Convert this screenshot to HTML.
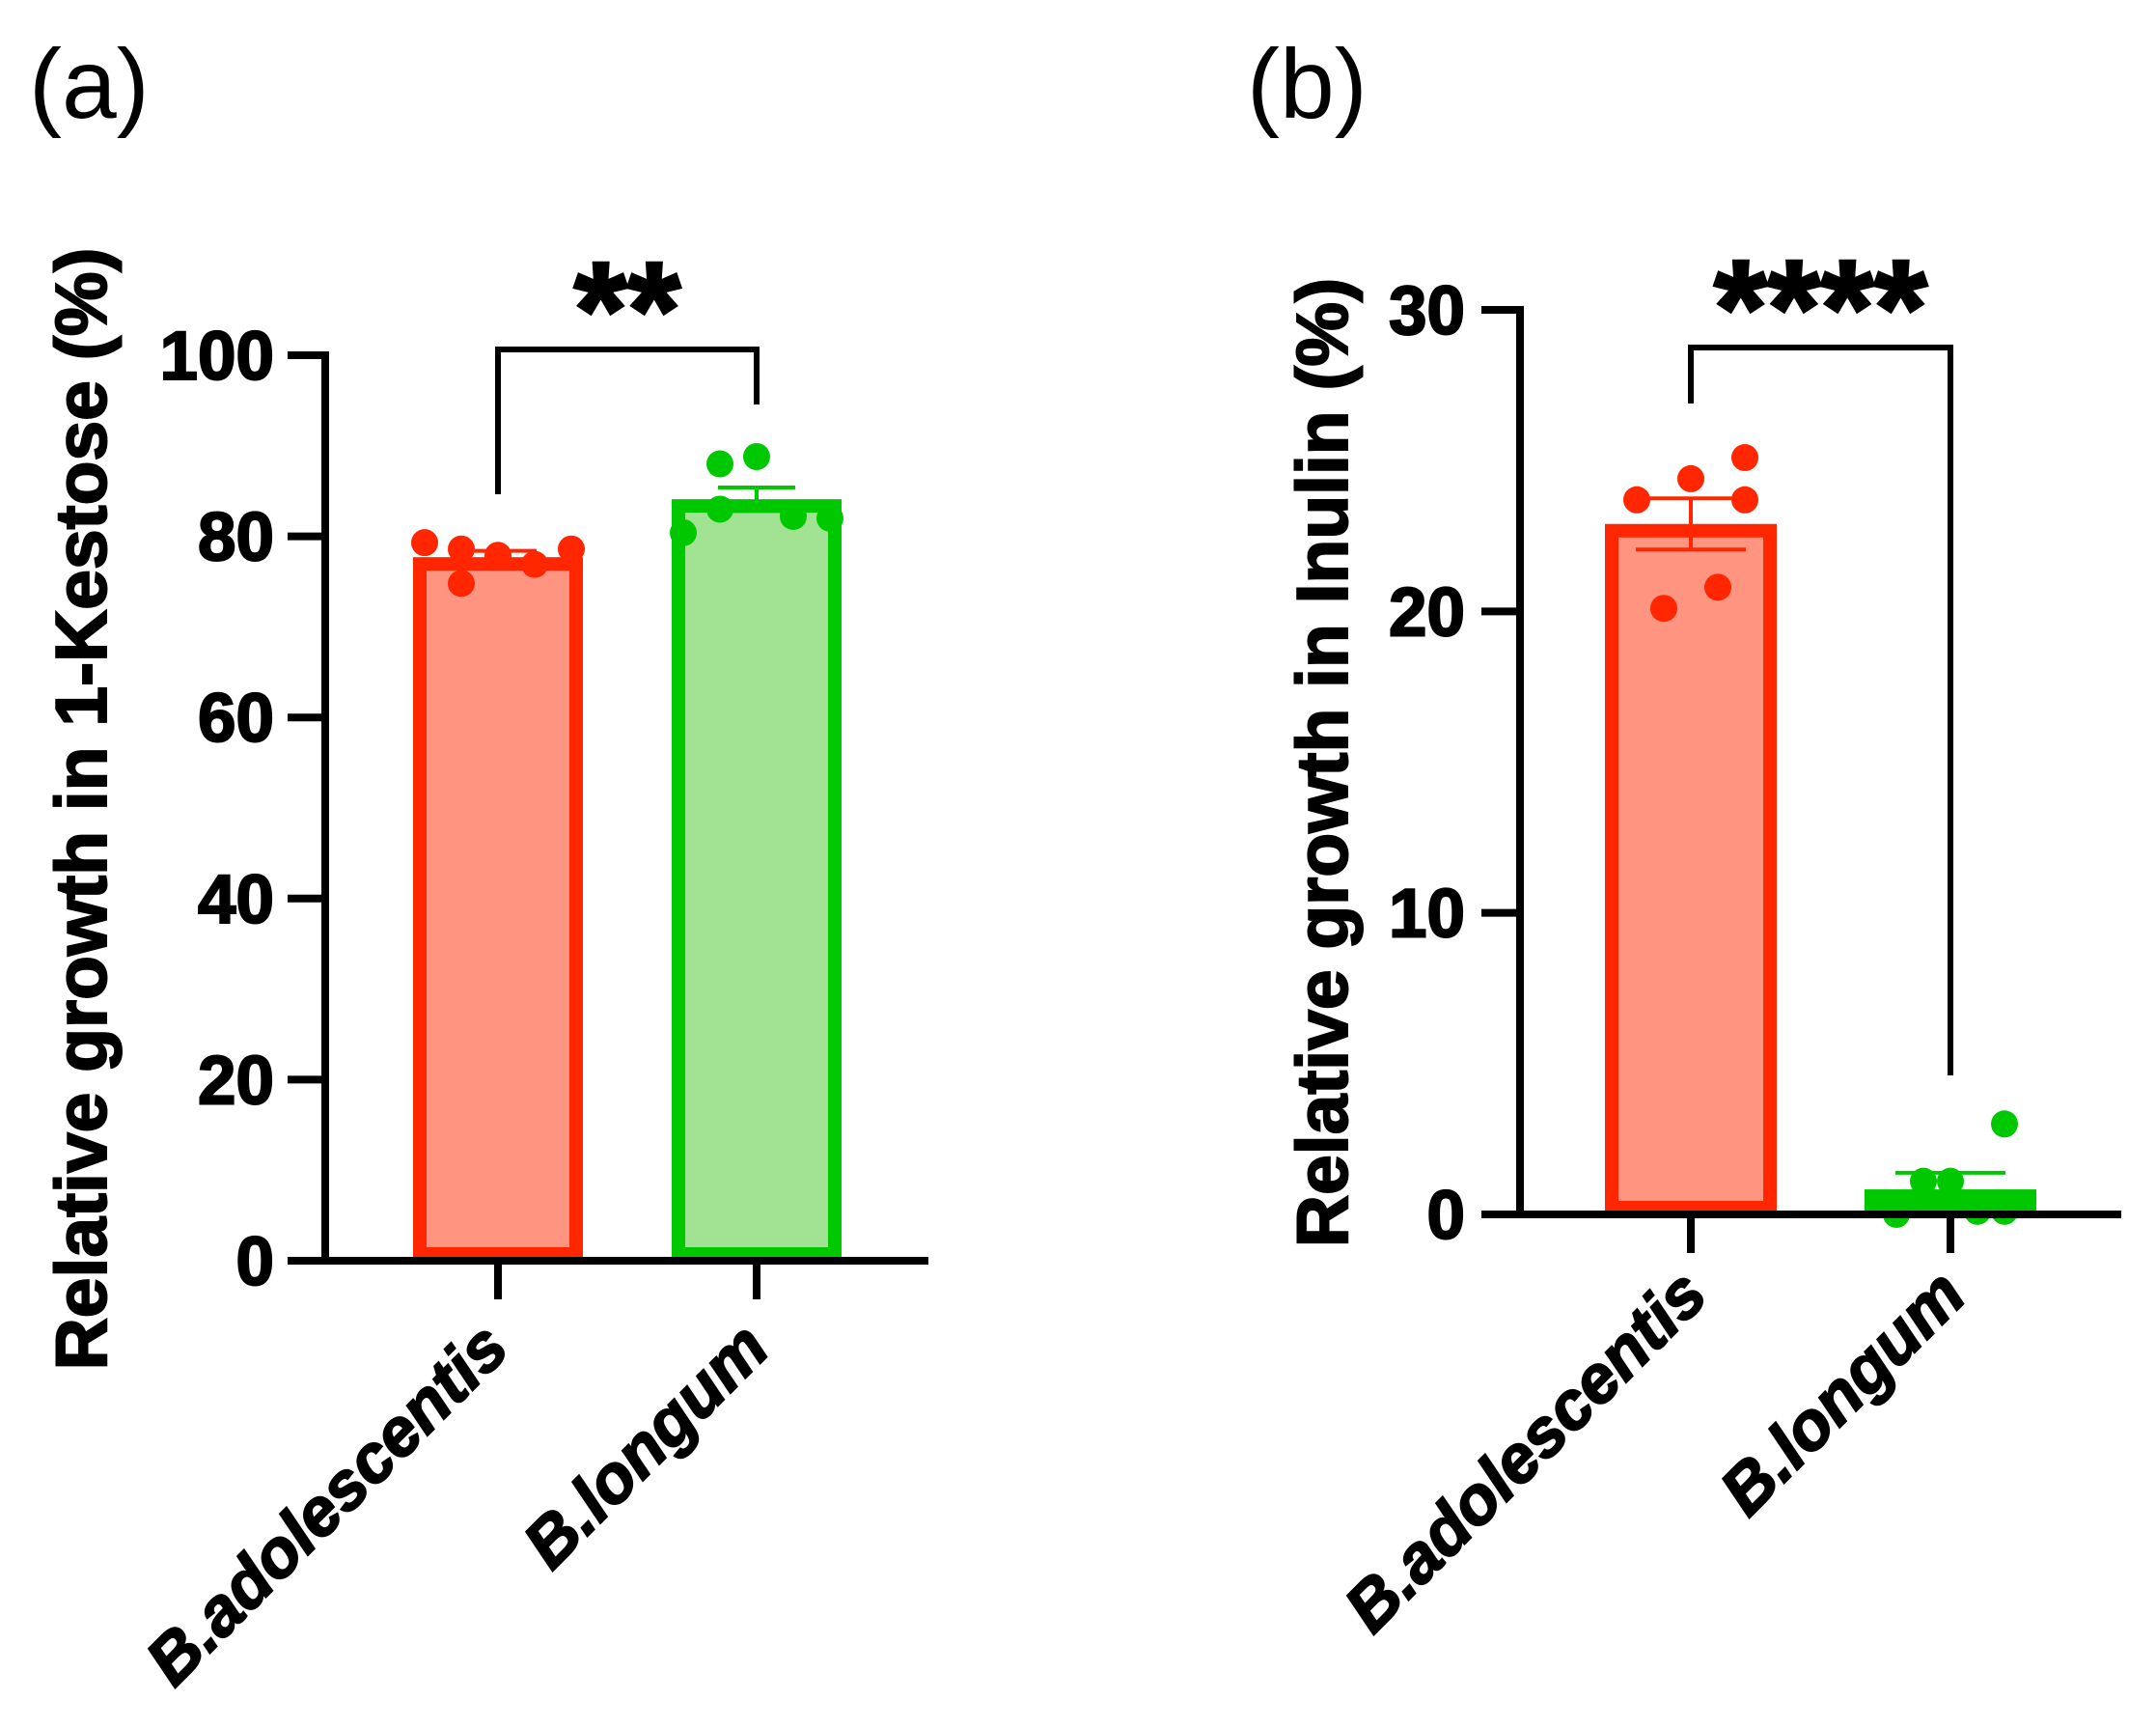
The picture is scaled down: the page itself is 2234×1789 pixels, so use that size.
<!DOCTYPE html>
<html><head><meta charset="utf-8"><style>
html,body{margin:0;padding:0;background:#fff;}
svg{display:block;font-family:"Liberation Sans",Arial,sans-serif;font-weight:bold;}
</style></head><body>
<svg id="fig" width="2234" height="1789" viewBox="0 0 2234 1789" xmlns="http://www.w3.org/2000/svg">
<text x="30" y="122" font-size="102" font-weight="normal">(a)</text>
<text x="1292" y="122" font-size="102" font-weight="normal">(b)</text>
<g id="pa"></g>
<g id="pb"></g>
</svg>
<script>
const categories = ["B.adolescentis", "B.longum"];
const aMeans = [77.7, 84.1];
const aErr = [0.7, 1.3];
const aPoints = [[79.3, 78.6, 74.8, 77.9, 76.9, 78.6], [80.4, 88.0, 83.0, 88.8, 82.2, 82.0]];
const aTicks = [0, 20, 40, 60, 80, 100];
const bMeans = [22.9, 0.83];
const bErr = [0.85, 0.55];
const bPoints = [[23.7, 24.4, 25.1, 23.7, 20.1, 20.8], [0.0, 1.1, 3.0, 0.1, 1.1, 0.1]];
const bTicks = [0, 10, 20, 30];
const aSig = "**";
const bSig = "****";

const NS = "http://www.w3.org/2000/svg";
function mk(parent, tag, attrs, text) {
  const e = document.createElementNS(NS, tag);
  for (const k in attrs) e.setAttribute(k, attrs[k]);
  if (text !== undefined) e.textContent = text;
  parent.appendChild(e);
  return e;
}
const fills = ["#ff9480", "#a2e393"];
const strokes = ["#ff2600", "#00c800"];

function panel(g, cfg) {
  const y = v => cfg.y0 - (v - cfg.min) / (cfg.max - cfg.min) * (cfg.y0 - cfg.yTop);
  const xs = cfg.centers;
  cfg.means.forEach((m, i) => {
    const top = y(m) + 7;
    const r = mk(g, "rect", {x: xs[i] - cfg.bw / 2 + 7, y: top, width: cfg.bw - 14, height: Math.max(0, y(0) - 7 - top), fill: fills[i], stroke: strokes[i], "stroke-width": 14});
    
    
  });
  cfg.means.forEach((m, i) => {
    const eg = mk(g, "g", {stroke: strokes[i], "stroke-width": 4});
    
    
    mk(eg, "line", {x1: xs[i], x2: xs[i], y1: y(m - cfg.err[i]), y2: y(m + cfg.err[i])});
    mk(eg, "line", {x1: xs[i] - cfg.cap, x2: xs[i] + cfg.cap, y1: y(m + cfg.err[i]), y2: y(m + cfg.err[i])});
    mk(eg, "line", {x1: xs[i] - cfg.cap, x2: xs[i] + cfg.cap, y1: y(m - cfg.err[i]), y2: y(m - cfg.err[i])});
  });
  cfg.points.forEach((pts, i) => {
    pts.forEach((v, j) => {
      const spread = cfg.offsets[j] * cfg.dx;
      const c = mk(g, "circle", {cx: xs[i] + spread, cy: y(v), r: 14, fill: strokes[i]});
      
      
    });
  });
  const ax = mk(g, "g", {stroke: "#000", "stroke-width": 8, fill: "none"});
  
  
  mk(ax, "line", {x1: cfg.ax, x2: cfg.ax, y1: y(cfg.max) - 4, y2: y(0) + 4});
  mk(ax, "line", {x1: cfg.tickL, x2: cfg.xEnd, y1: y(0), y2: y(0)});
  cfg.ticks.forEach(t => {
    mk(ax, "line", {x1: cfg.tickL, x2: cfg.ax, y1: y(t), y2: y(t)});
    const tl = mk(g, "text", {x: cfg.labR, y: y(t) + 25, "font-size": 71, "text-anchor": "end", stroke: "#000", "stroke-width": 2}, String(t));
    
    
  });
  xs.forEach((x, i) => {
    mk(ax, "line", {x1: x, x2: x, y1: y(0), y2: cfg.tickB});
    const lx = cfg.labX[i], ly = cfg.labY;
    const xl = mk(g, "text", {x: lx, y: ly, "font-size": 70, "font-style": "italic", "text-anchor": "end", stroke: "#000", "stroke-width": 2, transform: `rotate(-45 ${lx} ${ly})`}, categories[i]);
    
    
  });
  const br = mk(g, "polyline", {points: `${xs[0]},${cfg.bl} ${xs[0]},${cfg.bt} ${xs[1]},${cfg.bt} ${xs[1]},${cfg.brr}`, stroke: "#000", "stroke-width": 6, fill: "none"});
  
  
  const st = mk(g, "text", {x: (xs[0] + xs[1]) / 2, y: cfg.bt + 8, "font-size": 142, "text-anchor": "middle", stroke: "#000", "stroke-width": 3}, cfg.sig);
  
  
  const yt = mk(g, "text", {x: 0, y: 0, "font-size": 75, "text-anchor": "middle", stroke: "#000", "stroke-width": 2, transform: `translate(${cfg.titleX} ${cfg.titleY}) rotate(-90)`}, cfg.title);
  
  
}
panel(document.getElementById("pa"), {
  min: 0, max: 100, y0: 1306, yTop: 368, ax: 337, tickL: 298, xEnd: 962, tickB: 1346,
  centers: [516, 784], bw: 176, cap: 40, means: aMeans, err: aErr, points: aPoints, ticks: aTicks,
  offsets: [-2, -1, -1, 0, 1, 2], dx: 38, labR: 284, labX: [530, 800], labY: 1400,
  bl: 512, bt: 362, brr: 419, sig: aSig, title: "Relative growth in 1-Kestose (%)", titleX: 110, titleY: 838
});
panel(document.getElementById("pb"), {
  min: 0, max: 30, y0: 1258, yTop: 321, ax: 1575, tickL: 1535, xEnd: 2198, tickB: 1298,
  centers: [1752, 2021], bw: 178, cap: 57, means: bMeans, err: bErr, points: bPoints, ticks: bTicks,
  offsets: [-2, -0, 2, 2, -1, 1], dx: 28, labR: 1518, labX: [1772, 2040], labY: 1345,
  bl: 418, bt: 360, brr: 1114, sig: bSig, title: "Relative growth in Inulin (%)", titleX: 1396, titleY: 790
});
</script>
</body></html>
